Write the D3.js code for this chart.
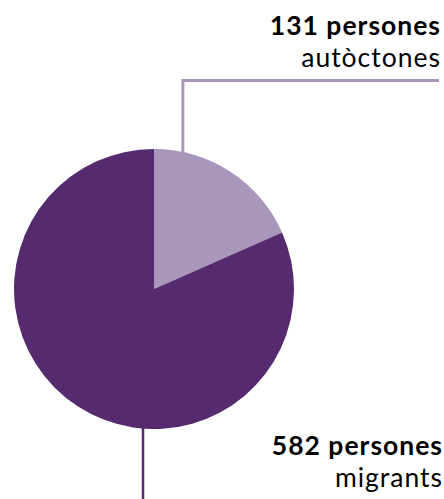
<!DOCTYPE html>
<html>
<head>
<meta charset="utf-8">
<script src="https://cdn.jsdelivr.net/npm/d3@7"></script>
<style>
  body { margin: 0; background: #fff; }
  svg { display: block; font-family: Lato, "Open Sans", sans-serif; }
</style>
</head>
<body>
<div id="container"></div>
<script>
var width = 444,
    height = 499;

// data
var groups = ["autòctones", "migrants"];
var values = [131, 582];
var colors = ["#a896bb", "#552a6e"];

var svg = d3.select("#container")
    .append("svg")
    .attr("width", width)
    .attr("height", height);

var cx = 154, cy = 289, r = 140;

var pie = d3.pie().sort(null).value(function (d) { return d; });
var arc = d3.arc().innerRadius(0).outerRadius(r);
var arcs = pie(values);

var g = svg.append("g").attr("transform", "translate(" + cx + "," + cy + ")");

g.selectAll("path")
    .data(arcs)
    .enter()
    .append("path")
    .attr("d", arc)
    .attr("fill", function (d, i) { return colors[i]; });

// leader lines: point on the rim of each slice
function rim(angle) {
    return [cx + r * Math.sin(angle), cy - r * Math.cos(angle)];
}

// autòctones: up then right
var a0 = arcs[0].startAngle + (arcs[0].endAngle - arcs[0].startAngle) * 0.18;
var p0 = rim(a0);
svg.append("polyline")
    .attr("points", [[p0[0], p0[1] + 2], [p0[0], 80.5], [439, 80.5]].join(" "))
    .attr("fill", "none")
    .attr("stroke", colors[0])
    .attr("stroke-width", 3);

// migrants: straight down
var a1 = Math.PI + Math.asin(11 / r);
var p1 = rim(a1);
svg.append("line")
    .attr("x1", p1[0]).attr("y1", p1[1] - 2)
    .attr("x2", p1[0]).attr("y2", height)
    .attr("stroke", colors[1])
    .attr("stroke-width", 2.5);

// labels
var labelY = [[35, 67], [455, 487]];
var labels = svg.selectAll("g.label")
    .data(groups)
    .enter()
    .append("g")
    .attr("class", "label");

labels.append("text")
    .attr("x", function (d, i) { return i ? 443 : 441; })
    .attr("y", function (d, i) { return labelY[i][0]; })
    .attr("text-anchor", "end")
    .attr("font-weight", "bold")
    .attr("font-size", 26.5)
    .attr("letter-spacing", 1)
    .attr("fill", "#000")
    .text(function (d, i) { return values[i] + " persones"; });

labels.append("text")
    .attr("x", function (d, i) { return i ? 443 : 441; })
    .attr("y", function (d, i) { return labelY[i][1]; })
    .attr("text-anchor", "end")
    .attr("font-size", 26.5)
    .attr("letter-spacing", 1)
    .attr("fill", "#000")
    .text(function (d) { return d; });
</script>
</body>
</html>
